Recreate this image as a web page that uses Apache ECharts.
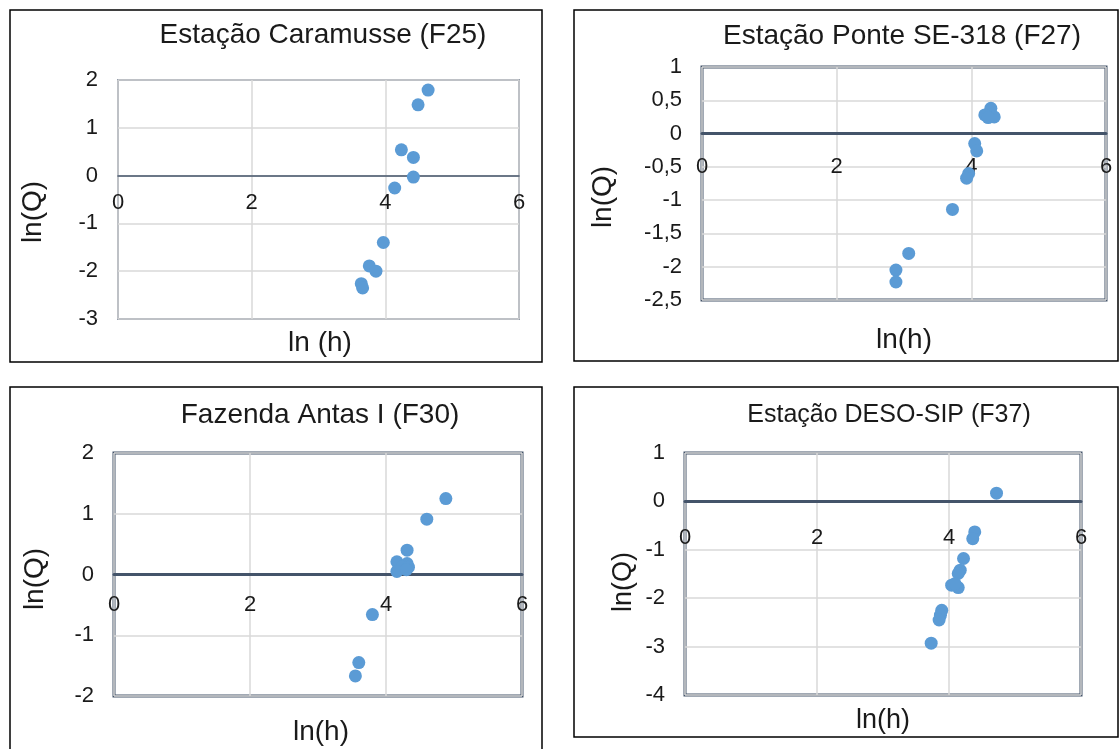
<!DOCTYPE html>
<html>
<head>
<meta charset="utf-8">
<script src="https://cdn.jsdelivr.net/npm/echarts@6/dist/echarts.min.js"></script>
<style>
  html, body { margin: 0; padding: 0; background: #fff; }
  #chart { width: 1119px; height: 749px; }
</style>
</head>
<body>
<div id="chart"></div>
<script>
// ln(h) / ln(Q)
const titles = ['Estação Caramusse (F25)', 'Estação Ponte SE-318 (F27)', 'Fazenda Antas I (F30)', 'Estação DESO-SIP (F37)'];
const xNames = ['ln (h)', 'ln(h)', 'ln(h)', 'ln(h)'];

const f25H = [4.64, 4.49, 4.24, 4.42, 4.42, 4.14, 3.97, 3.76, 3.86, 3.64, 3.66];
const f25Q = [1.79, 1.48, 0.54, 0.38, -0.03, -0.26, -1.40, -1.89, -2.00, -2.26, -2.35];

const f27H = [4.29, 4.20, 4.34, 4.25, 4.05, 4.08, 3.96, 3.93, 3.72, 3.07, 2.88, 2.88];
const f27Q = [0.38, 0.28, 0.25, 0.24, -0.15, -0.26, -0.60, -0.67, -1.14, -1.80, -2.05, -2.23];

const f30H = [4.88, 4.60, 4.31, 4.16, 4.31, 4.24, 4.33, 4.16, 4.30, 3.80, 3.60, 3.55];
const f30Q = [1.25, 0.91, 0.40, 0.21, 0.18, 0.13, 0.12, 0.05, 0.08, -0.66, -1.45, -1.67];

const f37H = [4.72, 4.39, 4.36, 4.22, 4.17, 4.14, 4.04, 4.14, 4.09, 3.89, 3.87, 3.85, 3.73];
const f37Q = [0.17, -0.63, -0.77, -1.18, -1.42, -1.49, -1.73, -1.78, -1.70, -2.25, -2.35, -2.45, -2.93];

const yMins = [-3, -2.5, -2, -4];
const yMaxs = [2, 1, 2, 1];
const yIntervals = [1, 0.5, 1, 1];

const seriesH = [f25H, f27H, f30H, f37H];
const seriesQ = [f25Q, f27Q, f30Q, f37Q];

// layout of each panel (pixels)
const panels = [
    {box: [10, 10, 532, 352], plot: [118, 80, 401, 239], border: 1.5, title: [323, 35], titleSize: 28, nameSize: 28,
        yName: [33, 212], xName: [320, 343], xLabelGap: 16},
    {box: [574, 10, 544, 351], plot: [702, 67, 404, 233], border: 3, title: [902, 36], titleSize: 28, nameSize: 28,
        yName: [603, 197], xName: [904, 340], xLabelGap: 22},
    {box: [10, 387, 532, 380], plot: [114, 453, 408, 243], border: 3, title: [320, 415], titleSize: 28, nameSize: 28,
        yName: [35, 579], xName: [321, 732], xLabelGap: 19},
    {box: [574, 387, 544, 350], plot: [685, 453, 396, 242], border: 3, title: [889, 415], titleSize: 25, nameSize: 27,
        yName: [624, 582], xName: [883, 721], xLabelGap: 26}
];

const font = "'Liberation Sans', Arial, sans-serif";
const axisColor = '#44546A';
const textColor = '#1a1a1a';

let myChart = echarts.init(document.getElementById('chart'));

let grid = [], xAxis = [], yAxis = [], series = [], graphic = [];

panels.forEach((p, i) => {
    graphic.push({
        type: 'rect',
        shape: {x: p.box[0], y: p.box[1], width: p.box[2], height: p.box[3]},
        style: {fill: 'none', stroke: '#000', lineWidth: 1.5},
        z: 0
    });
    graphic.push({
        type: 'text',
        x: p.title[0], y: p.title[1],
        style: {text: titles[i], font: p.titleSize + 'px ' + font, fill: textColor, align: 'center', verticalAlign: 'middle'}
    });
    graphic.push({
        type: 'text',
        x: p.yName[0], y: p.yName[1],
        rotation: Math.PI / 2,
        style: {text: 'ln(Q)', font: p.nameSize + 'px ' + font, fill: textColor, align: 'center', verticalAlign: 'middle'}
    });
    graphic.push({
        type: 'text',
        x: p.xName[0], y: p.xName[1],
        style: {text: xNames[i], font: p.nameSize + 'px ' + font, fill: textColor, align: 'center', verticalAlign: 'middle'}
    });

    grid.push({
        left: p.plot[0], top: p.plot[1], width: p.plot[2], height: p.plot[3],
        show: true,
        borderColor: axisColor,
        borderWidth: p.border,
        containLabel: false
    });

    // x labels sit just under the y = 0 line, as in the spreadsheet plot
    let zeroY = p.plot[1] + p.plot[3] * yMaxs[i] / (yMaxs[i] - yMins[i]);
    let labelMargin = zeroY + p.xLabelGap - (p.plot[1] + p.plot[3]);

    xAxis.push({
        type: 'value',
        gridIndex: i,
        min: 0, max: 6, interval: 2,
        axisLine: {onZero: true, lineStyle: {color: axisColor, width: p.border}},
        axisTick: {show: false},
        axisLabel: {
            fontSize: 22, fontFamily: font, color: textColor,
            margin: labelMargin, showMinLabel: true, showMaxLabel: true
        },
        splitLine: {show: true, lineStyle: {color: '#D9D9D9', width: 1.5}}
    });

    yAxis.push({
        type: 'value',
        gridIndex: i,
        min: yMins[i], max: yMaxs[i], interval: yIntervals[i],
        axisLine: {show: false},
        axisTick: {show: false},
        axisLabel: {
            fontSize: 22, fontFamily: font, color: textColor, margin: 20,
            formatter: v => String(v).replace('.', ',')
        },
        splitLine: {show: true, lineStyle: {color: '#D9D9D9', width: 1.5}}
    });

    series.push({
        type: 'scatter',
        xAxisIndex: i,
        yAxisIndex: i,
        symbolSize: 13,
        itemStyle: {color: '#5B9BD5', opacity: 1},
        data: seriesH[i].map((h, k) => [h, seriesQ[i][k]]),
        z: 5
    });
});

let option = {
    animation: false,
    backgroundColor: '#fff',
    grid: grid,
    xAxis: xAxis,
    yAxis: yAxis,
    series: series,
    graphic: graphic
};

myChart.setOption(option);
</script>
</body>
</html>
